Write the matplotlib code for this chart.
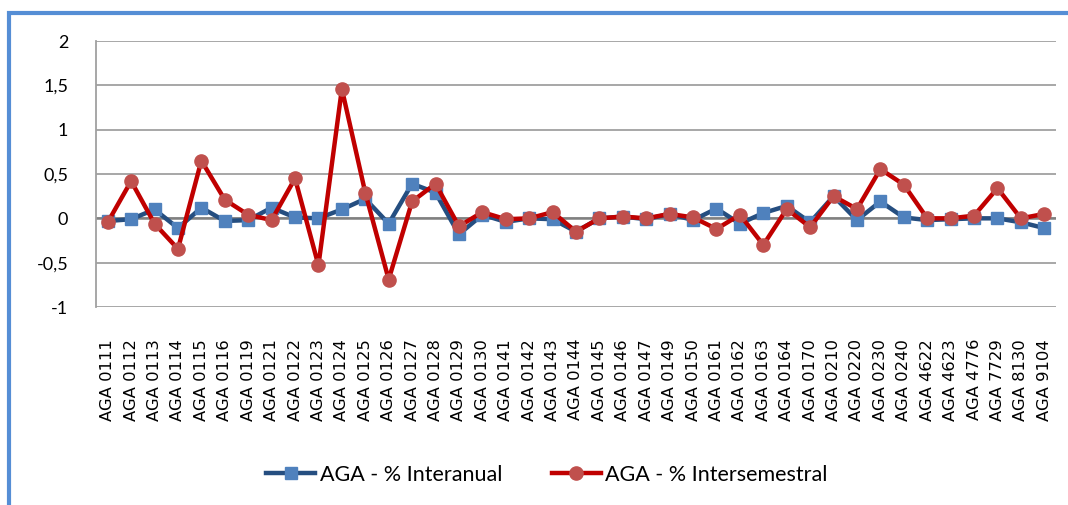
import matplotlib
matplotlib.use("Agg")
import matplotlib.pyplot as plt
from matplotlib.patches import Rectangle

categories = ["AGA 0111", "AGA 0112", "AGA 0113", "AGA 0114", "AGA 0115", "AGA 0116",
              "AGA 0119", "AGA 0121", "AGA 0122", "AGA 0123", "AGA 0124", "AGA 0125",
              "AGA 0126", "AGA 0127", "AGA 0128", "AGA 0129", "AGA 0130", "AGA 0141",
              "AGA 0142", "AGA 0143", "AGA 0144", "AGA 0145", "AGA 0146", "AGA 0147",
              "AGA 0149", "AGA 0150", "AGA 0161", "AGA 0162", "AGA 0163", "AGA 0164",
              "AGA 0170", "AGA 0210", "AGA 0220", "AGA 0230", "AGA 0240", "AGA 4622",
              "AGA 4623", "AGA 4776", "AGA 7729", "AGA 8130", "AGA 9104"]

interanual = [-0.03, -0.01, 0.10, -0.11, 0.12, -0.03, -0.02, 0.12, 0.01, 0.00,
              0.10, 0.22, -0.06, 0.39, 0.29, -0.18, 0.04, -0.04, 0.00, -0.01,
              -0.15, 0.00, 0.02, -0.01, 0.05, -0.02, 0.11, -0.06, 0.06, 0.14,
              -0.045, 0.25, -0.02, 0.19, 0.01, -0.02, -0.01, 0.00, 0.00, -0.045,
              -0.11]

intersemestral = [-0.045, 0.42, -0.06, -0.345, 0.65, 0.21, 0.04, -0.02, 0.45, -0.53,
                  1.46, 0.29, -0.69, 0.19, 0.39, -0.09, 0.07, -0.01, 0.00, 0.07,
                  -0.15, 0.00, 0.02, 0.00, 0.05, 0.01, -0.12, 0.04, -0.30, 0.105,
                  -0.10, 0.25, 0.105, 0.555, 0.38, 0.00, 0.00, 0.03, 0.34, 0.00,
                  0.05]

yticks = [-1, -0.5, 0, 0.5, 1, 1.5, 2]
ytick_labels = ["-1", "-0,5", "0", "0,5", "1", "1,5", "2"]

fig = plt.figure(figsize=(10.68, 5.05), dpi=100)
ax = fig.add_axes([96 / 1068, 1 - 307 / 505, (1056 - 96) / 1068, (307 - 41) / 505])

# blue frame round the chart
fig.patches.append(Rectangle((9 / 1068, -0.1), 1.2, 1 - 13 / 505 + 0.1,
                             transform=fig.transFigure, fill=False,
                             edgecolor="#558ED5", linewidth=3))

x = list(range(len(categories)))
ax.plot(x, interanual, color="#254E80", lw=3.2, marker="s", ms=9,
        mfc="#4F81BD", mec="#4F81BD", label="AGA - % Interanual", zorder=3)
ax.plot(x, intersemestral, color="#C00000", lw=3.2, marker="o", ms=9.5,
        mfc="#C0504D", mec="#C0504D", label="AGA - % Intersemestral", zorder=4)

ax.set_xlim(-0.5, len(categories) - 0.5)
ax.set_ylim(-1, 2)
ax.set_yticks(yticks)
ax.set_yticklabels(ytick_labels, fontsize=13, family="Lato")
ax.set_xticks(x)
ax.set_xticklabels(categories, rotation=90, fontsize=11.8, family="DejaVu Sans")
ax.tick_params(length=0)
ax.tick_params(axis="y", pad=20)
ax.tick_params(axis="x", pad=23)
ax.yaxis.grid(True, color="#A0A0A0", lw=1.3)
ax.set_axisbelow(True)
ax.axhline(0, color="#808080", lw=1.8, zorder=2)
for s in ["top", "right", "bottom"]:
    ax.spines[s].set_visible(False)
ax.spines["left"].set_color("#A0A0A0")
ax.spines["left"].set_linewidth(1.3)

leg = fig.legend(loc="center", bbox_to_anchor=(0.512, 1 - 475 / 505), ncol=2,
                 frameon=False, prop={"family": "Lato", "size": 15.5},
                 handlelength=2.3, columnspacing=2.3, handletextpad=0.2)

fig.savefig("out.png", dpi=100)
